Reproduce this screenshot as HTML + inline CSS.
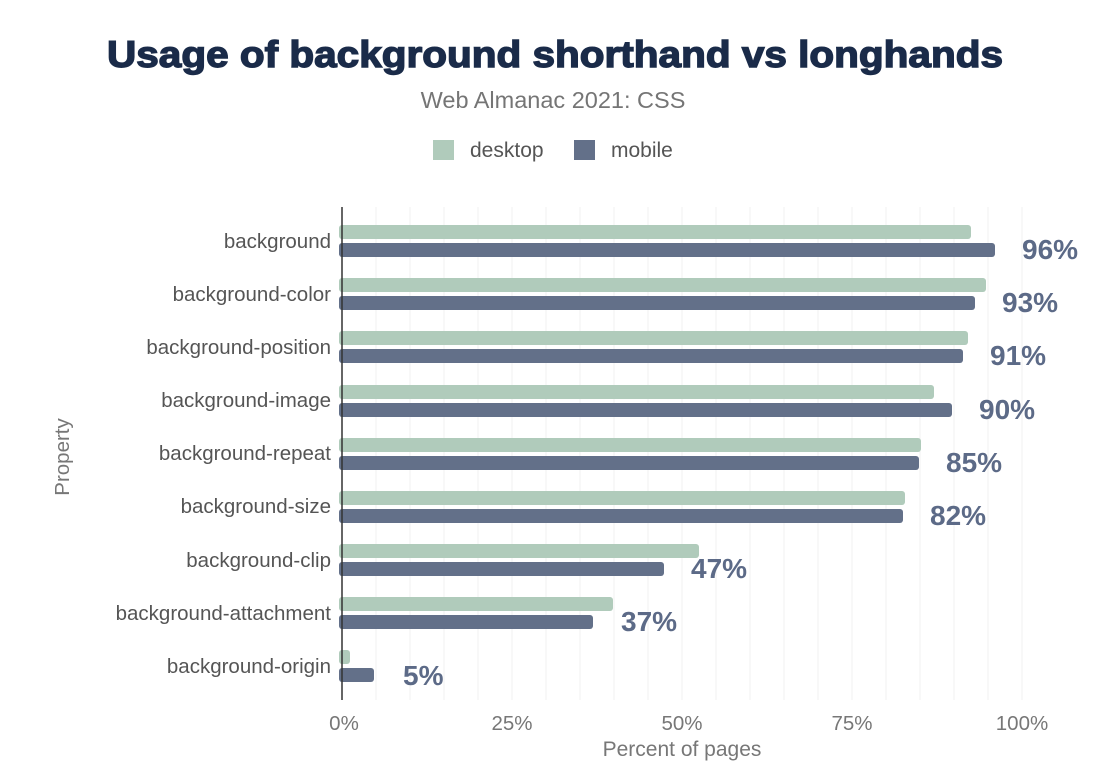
<!DOCTYPE html><html><head><style>body{margin:0;background:#fff}svg text{font-family:"Liberation Sans",sans-serif}</style></head><body>
<svg width="1098" height="776" xmlns="http://www.w3.org/2000/svg">
<text x="555" y="67" text-anchor="middle" font-size="37" font-weight="900" fill="#1a2b49" stroke="#1a2b49" stroke-width="1.4" textLength="896" lengthAdjust="spacingAndGlyphs">Usage of background shorthand vs longhands</text>
<text x="553" y="108" text-anchor="middle" font-size="23.5" fill="#757575">Web Almanac 2021: CSS</text>
<rect x="433" y="140" width="21" height="20" fill="#b0cbbb"/><text x="470" y="157" font-size="21" fill="#555">desktop</text>
<rect x="574" y="140" width="21" height="20" fill="#637089"/><text x="611" y="157" font-size="21" fill="#555">mobile</text>
<g stroke="#f0f0f0" stroke-width="1">
<line x1="376" y1="207" x2="376" y2="700"/><line x1="410" y1="207" x2="410" y2="700"/><line x1="444" y1="207" x2="444" y2="700"/><line x1="478" y1="207" x2="478" y2="700"/><line x1="512" y1="207" x2="512" y2="700"/><line x1="546" y1="207" x2="546" y2="700"/><line x1="580" y1="207" x2="580" y2="700"/><line x1="614" y1="207" x2="614" y2="700"/><line x1="648" y1="207" x2="648" y2="700"/><line x1="682" y1="207" x2="682" y2="700"/><line x1="716" y1="207" x2="716" y2="700"/><line x1="750" y1="207" x2="750" y2="700"/><line x1="784" y1="207" x2="784" y2="700"/><line x1="818" y1="207" x2="818" y2="700"/><line x1="852" y1="207" x2="852" y2="700"/><line x1="886" y1="207" x2="886" y2="700"/><line x1="920" y1="207" x2="920" y2="700"/><line x1="954" y1="207" x2="954" y2="700"/><line x1="988" y1="207" x2="988" y2="700"/><line x1="1022" y1="207" x2="1022" y2="700"/>
</g>
<g font-size="20.5" fill="#555" text-anchor="end">
<text x="331" y="248">background</text><text x="331" y="301">background-color</text><text x="331" y="354">background-position</text><text x="331" y="407">background-image</text><text x="331" y="460">background-repeat</text><text x="331" y="513">background-size</text><text x="331" y="567">background-clip</text><text x="331" y="620">background-attachment</text><text x="331" y="673">background-origin</text>
</g>
<g fill="#b0cbbb">
<rect x="339" y="225" width="632" height="14" rx="3"/><rect x="339" y="278" width="647" height="14" rx="3"/><rect x="339" y="331" width="629" height="14" rx="3"/><rect x="339" y="385" width="595" height="14" rx="3"/><rect x="339" y="438" width="582" height="14" rx="3"/><rect x="339" y="491" width="566" height="14" rx="3"/><rect x="339" y="544" width="360" height="14" rx="3"/><rect x="339" y="597" width="274" height="14" rx="3"/><rect x="339" y="650" width="11" height="14" rx="3"/>
</g>
<g fill="#637089">
<rect x="339" y="243" width="656" height="14" rx="3"/><rect x="339" y="296" width="636" height="14" rx="3"/><rect x="339" y="349" width="624" height="14" rx="3"/><rect x="339" y="403" width="613" height="14" rx="3"/><rect x="339" y="456" width="580" height="14" rx="3"/><rect x="339" y="509" width="564" height="14" rx="3"/><rect x="339" y="562" width="325" height="14" rx="3"/><rect x="339" y="615" width="254" height="14" rx="3"/><rect x="339" y="668" width="35" height="14" rx="3"/>
</g>
<line x1="342" y1="207" x2="342" y2="700" stroke="#333" stroke-width="1.5"/>
<g font-size="28" font-weight="bold" fill="#5c6a87">
<text x="1022" y="259">96%</text><text x="1002" y="312">93%</text><text x="990" y="365">91%</text><text x="979" y="419">90%</text><text x="946" y="472">85%</text><text x="930" y="525">82%</text><text x="691" y="578">47%</text><text x="621" y="631">37%</text><text x="403" y="685">5%</text>
</g>
<g font-size="20.5" fill="#777" text-anchor="middle">
<text x="344" y="730">0%</text><text x="512" y="730">25%</text><text x="682" y="730">50%</text><text x="852" y="730">75%</text><text x="1022" y="730">100%</text>
</g>
<text x="682" y="756" text-anchor="middle" font-size="21" fill="#777">Percent of pages</text>
<text transform="translate(69,457) rotate(-90)" text-anchor="middle" font-size="20.5" fill="#777">Property</text>
</svg></body></html>
